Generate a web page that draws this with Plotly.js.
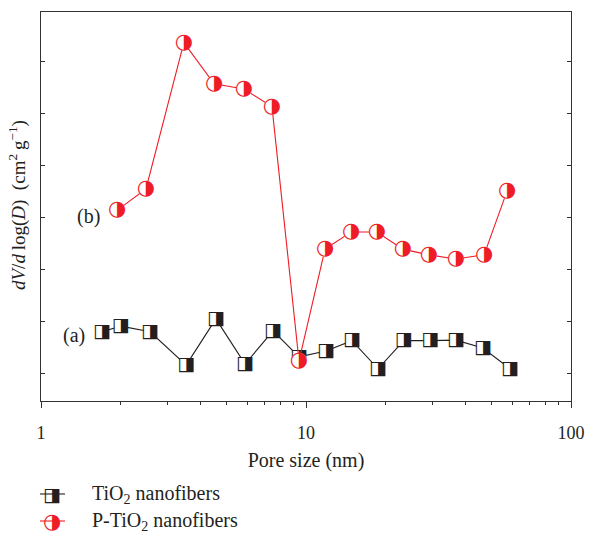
<!DOCTYPE html>
<html>
<head>
<meta charset="utf-8">
<script src="https://cdn.plot.ly/plotly-3.0.1.min.js"></script>
<style>html,body{margin:0;padding:0;background:#fff;}</style>
</head>
<body>
<div id="chart" style="width:589px;height:533px;"></div>
<script>
// Pore size (nm)
const poreTiO2 = [1.70, 2.00, 2.58, 3.53, 4.57, 5.89, 7.51, 9.41, 11.9, 14.9, 18.7, 23.4, 29.4, 36.8, 46.5, 58.9];
const dvTiO2   = [0.81, 0.92, 0.81, 0.17, 1.06, 0.19, 0.83, 0.33, 0.44, 0.64, 0.10, 0.64, 0.64, 0.65, 0.50, 0.10];
const porePTiO2 = [1.94, 2.49, 3.46, 4.50, 5.83, 7.44, 9.41, 11.8, 14.8, 18.5, 23.2, 29.1, 36.8, 47.0, 57.4];
const dvPTiO2   = [3.15, 3.56, 6.37, 5.58, 5.48, 5.14, 0.25, 2.40, 2.73, 2.73, 2.40, 2.29, 2.21, 2.29, 3.52];
const seriesNames = ["TiO<sub>2</sub> nanofibers", "P-TiO<sub>2</sub> nanofibers"];
const xTickVals = [1, 10, 100];
const xTickText = ["1", "10", "100"];
const xMinorVals = [2,3,4,5,6,7,8,9,20,30,40,50,60,70,80,90];

const RED = "#ee1c25";
const BLK = "#231f20";
const SQ = "\u25E8";   // square, right half black
const CI = "\u25D1";   // circle, right half black
const serif = "Liberation Serif, Times New Roman, serif";

function rep(ch, n){ return Array(n).fill(ch); }

const traces = [
  {x: poreTiO2, y: dvTiO2, mode: "lines+markers", showlegend:false, hoverinfo:"skip",
   line:{color:BLK, width:1.1},
   marker:{symbol:"square", size:13, color:"#fff", line:{width:0}}},
  {x: poreTiO2, y: dvTiO2, mode: "text", showlegend:false, text: rep(SQ, poreTiO2.length),
   textposition:"middle center", textfont:{family:"DejaVu Sans", size:19, color:BLK}},
  {x: porePTiO2, y: dvPTiO2, mode: "lines+markers", showlegend:false, hoverinfo:"skip",
   line:{color:RED, width:1.1},
   marker:{symbol:"circle", size:16, color:"#fff", line:{width:0}}},
  {x: porePTiO2, y: dvPTiO2, mode: "text", showlegend:false, text: rep(CI, porePTiO2.length),
   textposition:"middle center", textfont:{family:"DejaVu Sans", size:21, color:RED}}
];

const W = 530, H = 389, L = 41, T = 12;
function px(x){ return (x - L)/W; }
function py(y){ return (T + H - y)/H; }

function ann(x, y, text, font, extra){
  return Object.assign({xref:"paper", yref:"paper", x: px(x), y: py(y), showarrow:false,
    xanchor:"center", yanchor:"middle", text: text, font: font}, extra || {});
}
const txtFont = {family: serif, size: 20, color: BLK};

const layout = {
  width: 589, height: 533,
  margin: {l: 41, r: 18, t: 12, b: 132},
  paper_bgcolor: "#fff", plot_bgcolor: "#fff",
  showlegend: false,
  font: {family: serif, size: 16, color: BLK},
  xaxis: {
    type: "log", range: [0, 2],
    tickmode: "array", tickvals: xTickVals, ticktext: xTickText,
    ticks: "outside", ticklen: 6, tickwidth: 1, tickcolor: "#333",
    minor: {tickmode: "array", tickvals: xMinorVals, ticks: "outside", ticklen: 3, tickwidth: 1, tickcolor: "#333"},
    showline: true, linecolor: "#333", linewidth: 1.2, mirror: true,
    showgrid: false, zeroline: false,
    tickfont: {family: serif, size: 18, color: BLK},
    ticklabelstandoff: 9,
    title: {text: "Pore size (nm)", font: {family: serif, size: 20, color: BLK}, standoff: 11}
  },
  yaxis: {
    range: [-0.52, 6.96],
    tick0: 0, dtick: 1,
    ticks: "inside", ticklen: 4, tickwidth: 1, tickcolor: "#333",
    showticklabels: false,
    showline: true, linecolor: "#333", linewidth: 1.2, mirror: "allticks",
    showgrid: false, zeroline: false
  },
  annotations: [
    ann(17, 205, "<i>dV</i>/<i>d</i>\u2009log(<i>D</i>)\u2002(cm<sup>2</sup>\u2009g<sup>\u22121</sup>)",
        {family: serif, size: 19, color: BLK}, {textangle: -90}),
    ann(74, 335, "(a)", txtFont),
    ann(88, 216, "(b)", txtFont),
    ann(52, 494, SQ, {family:"DejaVu Sans", size:19, color:BLK}),
    ann(52, 521, CI, {family:"DejaVu Sans", size:21, color:RED}),
    ann(90, 494, seriesNames[0], txtFont, {xanchor:"left"}),
    ann(90, 521, seriesNames[1], txtFont, {xanchor:"left"})
  ],
  shapes: [
    {type:"line", xref:"paper", yref:"paper", x0: px(40), x1: px(65), y0: py(494), y1: py(494), line:{color:BLK, width:1.1}, layer:"below"},
    {type:"line", xref:"paper", yref:"paper", x0: px(40), x1: px(65), y0: py(521), y1: py(521), line:{color:RED, width:1.1}, layer:"below"}
  ]
};

Plotly.newPlot("chart", traces, layout, {displayModeBar: false, staticPlot: true});
</script>
</body>
</html>
